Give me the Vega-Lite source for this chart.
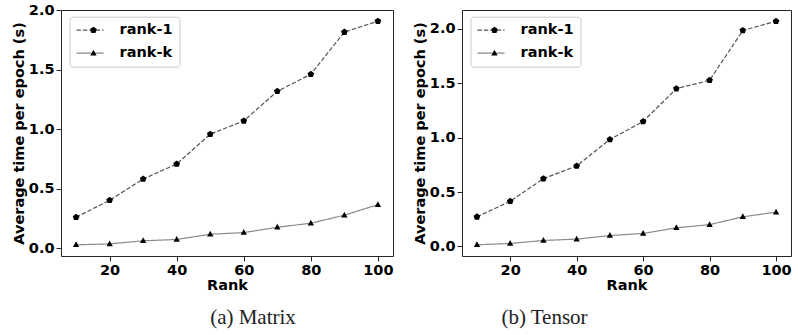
{
  "$schema": "https://vega.github.io/schema/vega-lite/v6.json",
  "padding": {"left": 10, "top": 1, "right": 0, "bottom": 0},
  "background": "white",
  "config": {
    "font": "DejaVu Sans",
    "view": {"stroke": "#262626", "strokeWidth": 1},
    "axis": {
      "labelFont": "DejaVu Sans", "labelFontWeight": "bold", "labelFontSize": 14.5, "labelColor": "black",
      "titleFont": "DejaVu Sans", "titleFontWeight": "bold", "titleFontSize": 14.5, "titleColor": "black",
      "grid": false, "tickSize": 5, "tickColor": "#262626", "tickWidth": 1,
      "domain": false, "labelPadding": 2, "titlePadding": 2, "labelFlush": false, "labelOverlap": false
    },
    "legend": {
      "labelFont": "DejaVu Sans", "labelFontWeight": "bold", "labelFontSize": 14.5, "labelColor": "black"
    },
    "concat": {"spacing": 17},
    "title": {"font": "Liberation Serif", "fontSize": 21, "fontWeight": "normal", "color": "#222"}
  },
  "resolve": {
    "scale": {"color": "independent", "strokeDash": "independent", "shape": "independent"},
    "legend": {"color": "independent", "strokeDash": "independent", "shape": "independent"}
  },
  "datasets": {
    "matrix": [
      {"rank": 10, "time": 0.26, "series": "rank-1"},
      {"rank": 20, "time": 0.403, "series": "rank-1"},
      {"rank": 30, "time": 0.582, "series": "rank-1"},
      {"rank": 40, "time": 0.708, "series": "rank-1"},
      {"rank": 50, "time": 0.959, "series": "rank-1"},
      {"rank": 60, "time": 1.071, "series": "rank-1"},
      {"rank": 70, "time": 1.32, "series": "rank-1"},
      {"rank": 80, "time": 1.463, "series": "rank-1"},
      {"rank": 90, "time": 1.818, "series": "rank-1"},
      {"rank": 100, "time": 1.91, "series": "rank-1"},
      {"rank": 10, "time": 0.028, "series": "rank-k"},
      {"rank": 20, "time": 0.036, "series": "rank-k"},
      {"rank": 30, "time": 0.062, "series": "rank-k"},
      {"rank": 40, "time": 0.073, "series": "rank-k"},
      {"rank": 50, "time": 0.117, "series": "rank-k"},
      {"rank": 60, "time": 0.131, "series": "rank-k"},
      {"rank": 70, "time": 0.176, "series": "rank-k"},
      {"rank": 80, "time": 0.21, "series": "rank-k"},
      {"rank": 90, "time": 0.277, "series": "rank-k"},
      {"rank": 100, "time": 0.366, "series": "rank-k"}
    ],
    "tensor": [
      {"rank": 10, "time": 0.272, "series": "rank-1"},
      {"rank": 20, "time": 0.415, "series": "rank-1"},
      {"rank": 30, "time": 0.623, "series": "rank-1"},
      {"rank": 40, "time": 0.739, "series": "rank-1"},
      {"rank": 50, "time": 0.983, "series": "rank-1"},
      {"rank": 60, "time": 1.148, "series": "rank-1"},
      {"rank": 70, "time": 1.45, "series": "rank-1"},
      {"rank": 80, "time": 1.527, "series": "rank-1"},
      {"rank": 90, "time": 1.985, "series": "rank-1"},
      {"rank": 100, "time": 2.07, "series": "rank-1"},
      {"rank": 10, "time": 0.015, "series": "rank-k"},
      {"rank": 20, "time": 0.027, "series": "rank-k"},
      {"rank": 30, "time": 0.055, "series": "rank-k"},
      {"rank": 40, "time": 0.067, "series": "rank-k"},
      {"rank": 50, "time": 0.1, "series": "rank-k"},
      {"rank": 60, "time": 0.119, "series": "rank-k"},
      {"rank": 70, "time": 0.171, "series": "rank-k"},
      {"rank": 80, "time": 0.2, "series": "rank-k"},
      {"rank": 90, "time": 0.272, "series": "rank-k"},
      {"rank": 100, "time": 0.315, "series": "rank-k"}
    ]
  },
  "hconcat": [
    {
      "width": 332, "height": 246,
      "title": {"text": "(a) Matrix", "orient": "bottom", "anchor": "middle", "frame": "group", "dx": 26, "offset": 15},
      "data": {"name": "matrix"},
      "layer": [
        {
          "mark": {"type": "line", "strokeWidth": 1.2},
          "encoding": {
            "x": {"field": "rank", "type": "quantitative", "title": "Rank", "scale": {"domain": [5.5, 104.5], "nice": false, "zero": false}, "axis": {"values": [20, 40, 60, 80, 100]}},
            "y": {"field": "time", "type": "quantitative", "title": "Average time per epoch (s)", "scale": {"domain": [-0.066, 2.004], "nice": false, "zero": false}, "axis": {"values": [0, 0.5, 1, 1.5, 2], "format": ".1f"}},
            "color": {"field": "series", "type": "nominal", "scale": {"domain": ["rank-1", "rank-k"], "range": ["#555555", "#8a8a8a"]},
              "legend": {"title": null, "orient": "none", "legendX": 8.5, "legendY": 6.7, "padding": 6, "strokeColor": "#cccccc", "cornerRadius": 3, "clipHeight": 15, "rowPadding": 7, "symbolType": "stroke", "symbolSize": 729, "symbolStrokeWidth": 1.2, "labelOffset": 15}},
            "strokeDash": {"field": "series", "type": "nominal", "scale": {"domain": ["rank-1", "rank-k"], "range": [[4.4, 2], [1, 0]]}}
          }
        },
        {
          "mark": {"type": "point", "filled": true, "color": "black", "opacity": 1, "size": 49},
          "encoding": {
            "x": {"field": "rank", "type": "quantitative"},
            "y": {"field": "time", "type": "quantitative"},
            "shape": {"field": "series", "type": "nominal", "scale": {"domain": ["rank-k", "rank-1"], "range": ["M0,-1L0.9,0.65L-0.9,0.65Z", "M0,-1L0.951,-0.309L0.588,0.809L-0.588,0.809L-0.951,-0.309Z"]},
              "legend": {"values": ["rank-1", "rank-k"], "title": null, "orient": "none", "legendX": 19.2, "legendY": 6.7, "padding": 6, "clipHeight": 15, "rowPadding": 7, "symbolSize": 49, "symbolFillColor": "#6e6e6e", "symbolStrokeColor": "#6e6e6e", "symbolStrokeWidth": 0, "symbolOpacity": 1, "labelOpacity": 0}}
          }
        }
      ]
    },
    {
      "width": 329, "height": 246,
      "title": {"text": "(b) Tensor", "orient": "bottom", "anchor": "middle", "frame": "group", "dx": -82, "offset": 15},
      "data": {"name": "tensor"},
      "layer": [
        {
          "mark": {"type": "line", "strokeWidth": 1.2},
          "encoding": {
            "x": {"field": "rank", "type": "quantitative", "title": "Rank", "scale": {"domain": [5.5, 104.5], "nice": false, "zero": false}, "axis": {"values": [20, 40, 60, 80, 100]}},
            "y": {"field": "time", "type": "quantitative", "title": "Average time per epoch (s)", "scale": {"domain": [-0.088, 2.173], "nice": false, "zero": false}, "axis": {"values": [0, 0.5, 1, 1.5, 2], "format": ".1f"}},
            "color": {"field": "series", "type": "nominal", "scale": {"domain": ["rank-1", "rank-k"], "range": ["#555555", "#8a8a8a"]},
              "legend": {"title": null, "orient": "none", "legendX": 8.5, "legendY": 6.7, "padding": 6, "strokeColor": "#cccccc", "cornerRadius": 3, "clipHeight": 15, "rowPadding": 7, "symbolType": "stroke", "symbolSize": 729, "symbolStrokeWidth": 1.2, "labelOffset": 15}},
            "strokeDash": {"field": "series", "type": "nominal", "scale": {"domain": ["rank-1", "rank-k"], "range": [[4.4, 2], [1, 0]]}}
          }
        },
        {
          "mark": {"type": "point", "filled": true, "color": "black", "opacity": 1, "size": 49},
          "encoding": {
            "x": {"field": "rank", "type": "quantitative"},
            "y": {"field": "time", "type": "quantitative"},
            "shape": {"field": "series", "type": "nominal", "scale": {"domain": ["rank-k", "rank-1"], "range": ["M0,-1L0.9,0.65L-0.9,0.65Z", "M0,-1L0.951,-0.309L0.588,0.809L-0.588,0.809L-0.951,-0.309Z"]},
              "legend": {"values": ["rank-1", "rank-k"], "title": null, "orient": "none", "legendX": 19.2, "legendY": 6.7, "padding": 6, "clipHeight": 15, "rowPadding": 7, "symbolSize": 49, "symbolFillColor": "#6e6e6e", "symbolStrokeColor": "#6e6e6e", "symbolStrokeWidth": 0, "symbolOpacity": 1, "labelOpacity": 0}}
          }
        }
      ]
    }
  ]
}
